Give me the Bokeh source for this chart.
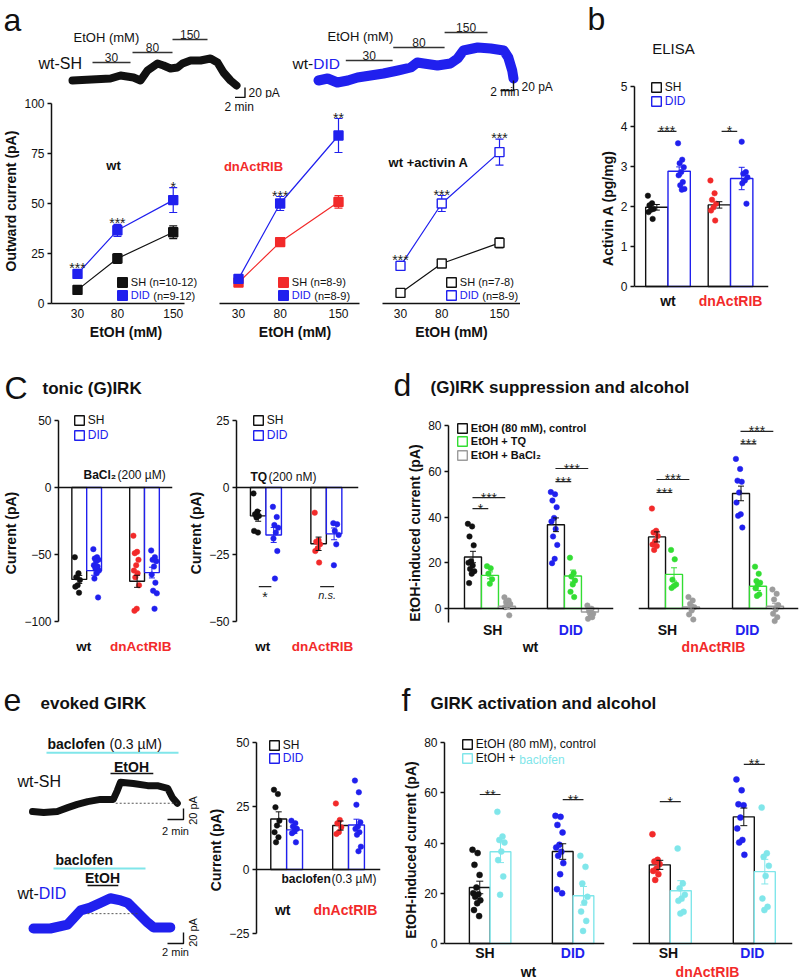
import math
from bokeh.plotting import figure
from bokeh.models import (Range1d, Label, Legend, LegendItem, Whisker, TeeHead,
                          ColumnDataSource, Span, FixedTicker, LinearAxis)
from bokeh.layouts import row, column
from bokeh.embed import file_html
from bokeh.resources import INLINE
from bokeh.core.properties import value

FONT = "Liberation Sans"
BLACK = "#111111"
BLUE = "#2020ee"
RED = "#f22a2a"
GREEN = "#33dd33"
CYAN = "#80e6ea"
GREY = "#9c9c9c"

# ============================ DATA ============================
# ---- panel a: EtOH concentration-response (mean, sem) ----
ETOH_MM = [30, 80, 150]
A_WT_SH = [6.8, 22.5, 35.6]
A_WT_SH_SEM = [1.0, 2.5, 3.2]
A_WT_DID = [14.8, 36.6, 51.7]
A_WT_DID_SEM = [1.0, 3.0, 6.2]
A_DN_SH = [10.5, 30.7, 50.8]
A_DN_SH_SEM = [1.0, 1.6, 3.1]
A_DN_DID = [12.3, 50.0, 84.0]
A_DN_DID_SEM = [1.0, 3.5, 8.5]
A_ACT_SH = [5.3, 20.0, 30.3]
A_ACT_SH_SEM = [1.5, 1.0, 2.5]
A_ACT_DID = [18.8, 50.0, 75.7]
A_ACT_DID_SEM = [2.3, 4.0, 6.5]
A_WT_SIG = ["***", "***", "*"]
A_DN_SIG = ["", "***", "**"]
A_ACT_SIG = ["***", "***", "***"]

# example traces (time in min, current in pA)
TR_SH_T = [0, 7.6, 9.6, 12.2, 13.6, 15, 17, 18.2, 19.6, 21, 22, 23.6, 25.6, 27.6, 29, 30.2, 31.6, 32.8]
TR_SH_I = [0, 4, 10, 6, 0, 20, 34, 30, 24, 26, 34, 40, 40, 44, 36, 16, 0, -10]
TR_SH_ETOH = [(4.0, 11.6), (12.0, 20.0), (20.0, 27.0)]
TR_DID_T = [0, 1.4, 2.9, 4.5, 6, 8, 10, 12.2, 14.2, 15.2, 16.2, 18.3, 20.3, 21.4, 22.3, 24.5, 26.5, 28.5, 29.2, 29.8, 30]
TR_DID_I = [0, 4, -4, 0, 6, 10, 14, 20, 26, 36, 34, 30, 34, 44, 60, 66, 64, 60, 46, 20, 4]
TR_DID_ETOH = [(4.2, 11.4), (11.5, 19.4), (19.4, 26.0)]
ETOH_LABELS = ["30", "80", "150"]
SCALE_MIN = 2
SCALE_PA = 20

# ---- panel b: ELISA (groups wt-SH, wt-DID, dn-SH, dn-DID) ----
B_MEAN = [1.98, 2.88, 2.04, 2.70]
B_SEM = [0.07, 0.11, 0.08, 0.28]
B_POINTS = [[2.27, 2.08, 2.03, 1.94, 1.92, 1.86, 1.69],
            [3.58, 3.17, 3.08, 2.98, 2.86, 2.78, 2.61, 2.53, 2.44, 2.42],
            [2.65, 2.33, 2.17, 2.07, 1.98, 1.90, 1.65],
            [3.62, 2.86, 2.82, 2.73, 2.65, 2.58, 2.07]]
B_SIG = ["***", "*"]

# ---- panel c: tonic (G)IRK ----
C_BA_MEAN = [-68.6, -62.0, -70.0, -63.5]
C_BA_SEM = [3.0, 3.5, 4.5, 4.0]
C_BA_POINTS = [[-52, -64, -67, -69, -73, -74, -78.5],
               [-46, -52, -53, -54, -55, -58, -59, -60, -62, -64, -68, -82],
               [-36, -48, -49, -54, -58, -62, -64, -67, -73, -90.5, -92],
               [-47, -52, -54, -55, -59, -65, -71, -77, -79, -90.5]]
C_TQ_MEAN = [-10.6, -17.7, -21.0, -17.3]
C_TQ_SEM = [2.0, 2.8, 2.5, 2.2]
C_TQ_POINTS = [[-2.2, -9, -10, -10.6, -11.2, -16.2, -16.8],
               [-7.2, -11, -14, -15, -16.8, -19, -23.7, -34],
               [-9.4, -19.7, -20.2, -21.2, -22.7, -23.7, -28],
               [-13.3, -13.7, -16.2, -17.7, -21.2, -29]]
C_TQ_SIG = ["*", "n.s."]

# ---- panel d: (G)IRK suppression (groups wt-SH, wt-DID, dn-SH, dn-DID) ----
D_CTRL_MEAN = [22.5, 36.6, 31.3, 50.3]
D_CTRL_SEM = [2.5, 3.0, 2.2, 3.2]
D_TQ_MEAN = [14.5, 14.2, 14.9, 9.7]
D_TQ_SEM = [1.5, 2.6, 2.9, 1.8]
D_BA_MEAN = [1.0, -1.5, 0.7, 1.0]
D_BA_SEM = [1.0, 1.0, 1.0, 1.3]
D_CTRL_POINTS = [[37, 35.9, 31.5, 27.6, 20.7, 20, 18.8, 17.3, 16.3, 15.2, 11.1],
                 [50.9, 49.9, 47.2, 44.3, 39.6, 38, 34.8, 31.5, 27.8, 21.7, 19.8],
                 [43.7, 34, 33.2, 31.7, 29.5, 28, 27.3, 25.6],
                 [65.4, 61, 55.9, 55.4, 50.7, 46.3, 41.2, 40.5, 35.4]]
D_TQ_POINTS = [[18.5, 17.6, 15.2, 12.8, 10.8],
               [22.2, 15.5, 14, 12.2, 10.5, 7.3, 5],
               [25.6, 21.5, 12.6, 10.5, 9.8, 9],
               [18.3, 15.2, 12, 11.3, 10.5, 8.8, 6.2, 5.5]]
D_BA_POINTS = [[4.9, 3.5, 2.8, 2.0, 1.3, 0.6, -3.0],
               [1.3, -0.1, -1.2, -2.3, -3.5, -4.5, -3.8],
               [5, 3.5, 2, 0.6, -0.9, -2.6, -4.8],
               [8.3, 6.4, 3.9, 1.5, -0.4, -2.3, -3.8, -5.5]]
D_SIG_TQ = ["*", "***", "***", "***"]
D_SIG_TQ_Y = [43.7, 55.5, 50.7, 72.0]
D_SIG_BA = ["***", "***", "***", "***"]
D_SIG_BA_Y = [48.5, 61.2, 56.4, 77.4]

# ---- panel e: evoked GIRK ----
E_MEAN = [19.9, 15.6, 17.3, 17.5]
E_SEM = [2.8, 1.3, 1.8, 2.3]
E_POINTS = [[31.4, 29.7, 24.5, 19.2, 17.3, 14.7, 12.7, 10.7],
            [19.2, 18.2, 16.9, 16, 15, 14.3, 10.7],
            [26, 19.5, 18.2, 16.6, 14.7, 14],
            [35, 30.4, 25.5, 18.6, 16.9, 16, 14.7, 13.7, 9, 7.2]]
E_SH_T = [0, 1.4, 3.1, 4.4, 5.6, 6.9, 8.5, 10.1, 10.6, 11, 12.6, 14.4, 15.6, 16.9, 17.5, 18.1]
E_SH_I = [0, -2, 0, 7, 13, 18, 22, 22, 38, 53, 51, 47, 47, 42, 25, 15]
E_SH_BAC = (1.75, 18.25)
E_SH_ETOH = (9.75, 15.1)
E_SH_BASE = (10.4, 18.1, 15)
E_DID_T = [0, 2.1, 4.25, 5.9, 7.1, 8.4, 9.6, 10.9, 11.75, 13, 14.25, 15, 17.1]
E_DID_I = [0, 0, 7, 33, 38, 47, 55, 51, 47, 29, 11, 2, 2]
E_DID_BAC = (2.5, 14.0)
E_DID_ETOH = (6.75, 10.6)
E_DID_BASE = (6.75, 13.0, 27)

# ---- panel f: GIRK activation (groups wt-SH, wt-DID, dn-SH, dn-DID) ----
F_CTRL_MEAN = [22.3, 36.6, 31.3, 50.4]
F_CTRL_SEM = [2.5, 3.1, 1.8, 3.5]
F_BAC_MEAN = [36.5, 19.0, 21.0, 28.6]
F_BAC_SEM = [4.3, 3.7, 4.0, 4.9]
F_CTRL_POINTS = [[37.3, 36, 31.3, 27.3, 22.3, 20, 19.6, 18.6, 17.2, 16, 13.3, 10.9],
                 [50.8, 50.4, 47.2, 44.2, 39.3, 38.2, 36.5, 34.9, 32, 27.6, 21.6, 20],
                 [43.5, 33.3, 32.6, 31.6, 29.8, 28.9, 27.6, 25.3],
                 [65.3, 61, 55.4, 55, 50.1, 45.8, 41.2, 40.2, 35.3]]
F_BAC_POINTS = [[52.4, 42.6, 41.2, 40.2, 36.6, 33.2, 26.7, 19.4],
                [34.9, 30.5, 23.9, 18.6, 16.3, 12.7, 9, 5],
                [37.8, 23.9, 22, 19.4, 17.9, 17, 12.6, 11.9],
                [54.1, 35.9, 34.5, 30.9, 26.9, 17.9, 14.6, 13.3]]
F_SIG = ["**", "**", "*", "**"]
F_SIG_Y = [59.3, 57.3, 56.5, 71.3]

# ============================ HELPERS ============================
GEOM = {}


def mkfig(gx, gy, w, h, frame, xmap, ymap):
    """frame = (X0, X1, Y0, Y1) in page pixels; xmap/ymap = two (pixel, data) anchors."""
    fx0, fx1, fy0, fy1 = frame
    (PX0, dx0), (PX1, dx1) = xmap
    (PY0, dy0), (PY1, dy1) = ymap
    kx = (dx1 - dx0) / (PX1 - PX0)
    ky = (dy1 - dy0) / (PY1 - PY0)
    xr = (dx0 + (fx0 - PX0) * kx, dx0 + (fx1 - PX0) * kx)
    yr = (dy0 + (fy1 - PY0) * ky, dy0 + (fy0 - PY0) * ky)
    p = figure(width=w, height=h, x_range=Range1d(*xr), y_range=Range1d(*yr),
               output_backend="svg", toolbar_location=None,
               x_axis_location=None, y_axis_location=None,
               min_border_left=fx0 - gx, min_border_top=fy0 - gy,
               min_border_right=gx + w - fx1, min_border_bottom=gy + h - fy1)
    p.outline_line_color = None
    p.grid.visible = False
    p.background_fill_color = "white"
    p.border_fill_color = "white"
    GEOM[p.id] = (fx0, fy0, fx1 - fx0, fy1 - fy0)
    return p


def blank(gx, gy, w, h):
    return mkfig(gx, gy, w, h, (gx, gx + w, gy, gy + h), ((gx, 0), (gx + w, 1)), ((gy + h, 0), (gy, 1)))


def fstyle(bold, italic):
    if bold and italic:
        return "bold italic"
    if bold:
        return "bold"
    if italic:
        return "italic"
    return "normal"


def style_axis(ax, tick_size=12, label_size=14):
    ax.axis_line_width = 1.5
    ax.axis_line_color = BLACK
    ax.major_tick_line_width = 1.5
    ax.major_tick_line_color = BLACK
    ax.major_tick_out = 4
    ax.major_tick_in = 0
    ax.minor_tick_out = 0
    ax.minor_tick_in = 0
    ax.major_label_standoff = 3
    ax.major_label_text_font = FONT
    ax.major_label_text_font_size = f"{tick_size}px"
    ax.major_label_text_color = BLACK
    ax.axis_label_text_font = FONT
    ax.axis_label_text_font_size = f"{label_size}px"
    ax.axis_label_text_font_style = "bold"
    ax.axis_label_text_color = BLACK


def add_yaxis(p, ticks, label, bounds, standoff=2):
    ax = LinearAxis(ticker=FixedTicker(ticks=ticks), axis_label=label, bounds=bounds)
    style_axis(ax, 12, 14)
    ax.axis_label_standoff = standoff
    p.add_layout(ax, "left")


def zero_line(p):
    p.add_layout(Span(location=0, dimension="width", line_color=BLACK, line_width=1.5))


def glabel(p, X, Y, text, size=12, color=BLACK, bold=False, italic=False,
           align="left", baseline="middle", angle=0.0):
    fx, fy, fw, fh = GEOM[p.id]
    p.add_layout(Label(x=X - fx, y=fy + fh - Y, x_units="screen", y_units="screen",
                       text=text, text_font=FONT, text_font_size=f"{size}px",
                       text_color=color, text_font_style=fstyle(bold, italic),
                       text_align=align, text_baseline=baseline, angle=angle))


def dlabel(p, x, Y, text, size=14, color=BLACK, bold=True, align="center"):
    fx, fy, fw, fh = GEOM[p.id]
    p.add_layout(Label(x=x, y=fy + fh - Y, x_units="data", y_units="screen",
                       text=text, text_font=FONT, text_font_size=f"{size}px",
                       text_color=color, text_font_style=fstyle(bold, False),
                       text_align=align, text_baseline="middle"))


def glegend(p, X, Y, renderer, text, color=BLACK, size=11, bold=False, index=0):
    fx, fy, fw, fh = GEOM[p.id]
    gw = 12
    leg = Legend(items=[LegendItem(label=value(text), renderers=[renderer], index=index)],
                 location=(X - 1.2 - fx, fy + fh - (Y + gw / 2)),
                 glyph_width=gw, glyph_height=gw, label_height=gw, label_width=5,
                 label_standoff=3, padding=0, margin=0, spacing=0,
                 border_line_color=None, background_fill_alpha=0,
                 label_text_font=FONT, label_text_font_size=f"{size}px",
                 label_text_color=color, label_text_font_style=fstyle(bold, False))
    p.add_layout(leg)


def ebar(p, x, lo, hi, color, head=7, lw=1.0, level="annotation"):
    src = ColumnDataSource(dict(b=[x], u=[hi], l=[lo]))
    p.add_layout(Whisker(source=src, base="b", upper="u", lower="l",
                         line_color=color, line_width=lw, level=level,
                         upper_head=TeeHead(size=head, line_color=color, line_width=lw),
                         lower_head=TeeHead(size=head, line_color=color, line_width=lw)))


def barset(p, pos, means, sems, outline, head=7):
    src = ColumnDataSource(dict(x=pos, top=means, c=outline))
    r = p.vbar(x="x", top="top", bottom=0, width=1.0, source=src,
               fill_color="white", line_color="c", line_width=1.4)
    for x, m, s, c in zip(pos, means, sems, outline):
        ebar(p, x, m - s, m + s, c, head)
    return r


def dots(p, xc, vals, color, spread=0.35, size=6):
    n = len(vals)
    xs = [xc + spread * (((i * 0.6180339) % 1.0) - 0.5) for i in range(n)]
    p.scatter(xs, vals, size=size, fill_color=color, line_color=color, line_width=0.5)


def sig(p, x0, x1, y, text, below=False, size=14, italic=False):
    p.segment(x0=[x0], y0=[y], x1=[x1], y1=[y], line_color="#222222", line_width=1.2)
    p.add_layout(Label(x=(x0 + x1) / 2, y=y, text=text, text_align="center",
                       text_baseline="top" if below else "alphabetic",
                       y_offset=-2 if below else 0,
                       text_font=FONT, text_font_size=f"{size}px", text_color="#222222",
                       text_font_style=fstyle(False, italic)))


def scalebar(p, t_end, i_base):
    p.line([t_end - SCALE_MIN, t_end, t_end], [i_base, i_base, i_base + SCALE_PA],
           line_color=BLACK, line_width=1.4)


def appl_bars(p, periods, levels, labels):
    for (t0, t1), lvl, txt in zip(periods, levels, labels):
        p.segment(x0=[t0], y0=[lvl], x1=[t1], y1=[lvl], line_color="#333333", line_width=1.3)
        p.add_layout(Label(x=(t0 + t1) / 2, y=lvl, text=txt, text_align="center",
                           text_baseline="bottom", y_offset=1, text_font=FONT,
                           text_font_size="12px", text_color="#222222"))


# ============================ ROW 1 ============================
# ---- panel a: example traces ----
tA1 = mkfig(0, 0, 290, 98, (0, 290, 0, 98), ((72, 0), (82, 2)), ((80, 0), (90, -20)))
tA1.line(TR_SH_T, TR_SH_I, line_color=BLACK, line_width=8, line_join="round", line_cap="round")
appl_bars(tA1, TR_SH_ETOH, [36, 56, 82], ETOH_LABELS)
scalebar(tA1, 34.5, -34)
glabel(tA1, 3, 19, "a", 32)
glabel(tA1, 73, 37, "EtOH (mM)", 13)
glabel(tA1, 38, 63, "wt-SH", 16)
glabel(tA1, 248, 92, "20 pA", 12)

tA2 = mkfig(290, 0, 230, 98, (290, 520, 0, 98), ((318, 0), (331, 2)), ((80, 0), (90, -20)))
tA2.line(TR_DID_T, TR_DID_I, line_color=BLUE, line_width=10, line_join="round", line_cap="round")
appl_bars(tA2, TR_DID_ETOH, [40, 66, 96], ETOH_LABELS)
scalebar(tA2, 30, -20)
glabel(tA2, 327, 36, "EtOH (mM)", 13)
glabel(tA2, 292, 63, "wt-", 15.5)
glabel(tA2, 312.7, 63, "DID", 15.5, BLUE)
glabel(tA2, 519, 91, "2 min", 12, align="right")

# ---- panel a: concentration-response plots ----
YMAP_A = ((303, 0), (103, 100))
lp1 = mkfig(0, 98, 200, 247, (47, 200, 98, 303), ((73.7, 30), (172, 150)), YMAP_A)
lp2 = mkfig(200, 98, 170, 247, (219, 370, 98, 303), ((238, 30), (338, 150)), YMAP_A)
lp3 = mkfig(370, 98, 150, 247, (382, 520, 98, 303), ((400, 30), (499, 150)), YMAP_A)
for p, bnd in ((lp1, (-2.6, 164.6)), (lp2, (7.2, 175.2)), (lp3, (8.2, 175.5))):
    ax = LinearAxis(ticker=FixedTicker(ticks=ETOH_MM), axis_label="EtOH (mM)", bounds=bnd)
    style_axis(ax, 12, 14)
    ax.major_tick_out = 0
    ax.major_label_standoff = 5
    ax.axis_label_standoff = 3
    p.add_layout(ax, "below")
add_yaxis(lp1, [0, 25, 50, 75, 100], "Outward current (pA)", (0, 100))


def lineplot(p, x, y, e, color, filled, stars):
    p.line(x, y, line_color=color, line_width=1.2)
    for xi, yi, ei in zip(x, y, e):
        ebar(p, xi, yi - ei, yi + ei, color, head=8, lw=1.2, level="underlay")
    r = p.rect(x, y, width=9, height=9, width_units="screen", height_units="screen",
               fill_color=color if filled else "white", line_color=color, line_width=1.4)
    if stars:
        for xi, yi, ei, s in zip(x, y, e, stars):
            if s:
                p.add_layout(Label(x=xi, y=yi + max(ei, 2.3), text=s, text_align="center",
                                   text_baseline="alphabetic", y_offset=1, text_font=FONT,
                                   text_font_size="14px", text_color="#222222"))
    return r


r1s = lineplot(lp1, ETOH_MM, A_WT_SH, A_WT_SH_SEM, BLACK, True, None)
r1d = lineplot(lp1, ETOH_MM, A_WT_DID, A_WT_DID_SEM, BLUE, True, A_WT_SIG)
r2s = lineplot(lp2, ETOH_MM, A_DN_SH, A_DN_SH_SEM, RED, True, None)
r2d = lineplot(lp2, ETOH_MM, A_DN_DID, A_DN_DID_SEM, BLUE, True, A_DN_SIG)
r3s = lineplot(lp3, ETOH_MM, A_ACT_SH, A_ACT_SH_SEM, BLACK, False, None)
r3d = lineplot(lp3, ETOH_MM, A_ACT_DID, A_ACT_DID_SEM, BLUE, False, A_ACT_SIG)

glegend(lp1, 113, 282, r1s, "SH (n=10-12)")
glegend(lp1, 113, 295, r1d, "DID", BLUE)
glabel(lp1, 113 + 35.8, 295, "(n=9-12)", 11)
glegend(lp2, 278, 282, r2s, "SH (n=8-9)")
glegend(lp2, 278, 295, r2d, "DID", BLUE)
glabel(lp2, 278 + 35.8, 295, "(n=8-9)", 11)
glegend(lp3, 446, 282, r3s, "SH (n=7-8)")
glegend(lp3, 446, 295, r3d, "DID", BLUE)
glabel(lp3, 446 + 35.8, 295, "(n=8-9)", 11)

glabel(lp1, 109, 165, "wt", 13, bold=True, align="center")
glabel(lp2, 253, 166, "dnActRIB", 13, RED, bold=True, align="center")
glabel(lp3, 428, 162, "wt +activin A", 13, bold=True, align="center")
glabel(lp2, 224, 106, "2 min", 12)

# ---- panel b ----
pbTop = blank(520, 0, 280, 70)
glabel(pbTop, 587, 18, "b", 32)
glabel(pbTop, 673, 48, "ELISA", 15, align="center")
pbGap = blank(520, 70, 40, 275)
glabel(pbGap, 521, 86, "20 pA", 12)
pb = mkfig(560, 70, 240, 275, (634, 768, 70, 345), ((634, 0), (768, 6)), ((286, 0), (86, 5)))
add_yaxis(pb, [0, 1, 2, 3, 4, 5], "Activin A (pg/mg)", (0, 5))
zero_line(pb)
B_POS = [1.0, 2.0, 3.8, 4.8]
rb = barset(pb, B_POS, B_MEAN, B_SEM, [BLACK, BLUE, BLACK, BLUE], head=6)
for x, pts, c, sh in zip(B_POS, B_POINTS, [BLACK, BLUE, RED, BLUE], [-0.25, 0.1, -0.25, 0.15]):
    dots(pb, x + sh, pts, c, spread=0.3, size=5.5)
sig(pb, 1.03, 1.88, 3.88, B_SIG[0])
sig(pb, 3.9, 4.6, 3.88, B_SIG[1])
glegend(pb, 651, 88, rb, "SH", BLACK, 12, index=0)
glegend(pb, 651, 102, rb, "DID", BLUE, 12, index=1)
dlabel(pb, 1.5, 300, "wt")
dlabel(pb, 4.3, 300, "dnActRIB", color=RED)

# ============================ ROW 2 ============================
cT = blank(0, 345, 360, 60)
glabel(cT, 4, 387, "C", 32)
glabel(cT, 42, 388, "tonic (G)IRK", 17, bold=True)

C_POS = [1.4, 2.4, 5.3, 6.3]
C_CAT = [1.7, 5.55]
PT_COL = [BLACK, BLUE, RED, BLUE]
PT_SHIFT = [-0.1, 0.15, -0.05, 0.15]

cl = mkfig(0, 405, 185, 255, (49, 172, 405, 660), ((49, 0), (65, 1)), ((621, -100), (420, 50)))
add_yaxis(cl, [-100, -50, 0, 50], "Current (pA)", (-100, 50))
zero_line(cl)
rcl = barset(cl, C_POS, C_BA_MEAN, C_BA_SEM, [BLACK, BLUE, BLACK, BLUE], head=6)
for x, pts, c, sh in zip(C_POS, C_BA_POINTS, PT_COL, PT_SHIFT):
    dots(cl, x + sh, pts, c, spread=0.4, size=5.5)
glegend(cl, 65, 421, rcl, "SH", BLACK, 12, index=0)
glegend(cl, 65, 436, rcl, "DID", BLUE, 12, index=1)
glabel(cl, 74, 474, "BaCl\u2082", 12, bold=True)
glabel(cl, 108, 474, "(200 \u00b5M)", 12)
dlabel(cl, C_CAT[0], 646, "wt", size=13.5)
dlabel(cl, C_CAT[1], 646, "dnActRIB", size=13.5, color=RED)

cr = mkfig(185, 405, 175, 255, (232, 358, 405, 660), ((232, 0), (248, 1)), ((621, -50), (420, 25)))
add_yaxis(cr, [-50, -25, 0, 25], "Current (pA)", (-50, 25))
zero_line(cr)
rcr = barset(cr, C_POS, C_TQ_MEAN, C_TQ_SEM, [BLACK, BLUE, BLACK, BLUE], head=6)
for x, pts, c, sh in zip(C_POS, C_TQ_POINTS, PT_COL, PT_SHIFT):
    dots(cr, x + sh, pts, c, spread=0.4, size=5.5)
glegend(cr, 249, 421, rcr, "SH", BLACK, 12, index=0)
glegend(cr, 249, 436, rcr, "DID", BLUE, 12, index=1)
glabel(cr, 246, 476, "TQ", 12, bold=True)
glabel(cr, 264, 476, "(200 nM)", 12)
sig(cr, 1.44, 2.25, -37, C_TQ_SIG[0], below=True)
sig(cr, 5.4, 6.3, -37, C_TQ_SIG[1], below=True, size=11, italic=True)
dlabel(cr, C_CAT[0], 646, "wt", size=13.5)
dlabel(cr, C_CAT[1], 646, "dnActRIB", size=13.5, color=RED)

dT = blank(360, 345, 440, 60)
glabel(dT, 393, 384, "d", 32)
glabel(dT, 430, 387, "(G)IRK suppression and alcohol", 17, bold=True)

YMAP_D = ((608, 0), (425, 80))
dl = mkfig(360, 405, 265, 255, (448, 613, 405, 660), ((448, 0), (465, 1)), YMAP_D)
dr = mkfig(625, 405, 175, 255, (638, 798, 405, 660), ((638, 0), (655, 1)), YMAP_D)
add_yaxis(dl, [0, 20, 40, 60, 80], "EtOH-induced current (pA)", (-6.1, 80))


def dpanel(p, pos, groups, ctrl_cols):
    zero_line(p)
    cx = [pos[0][0], pos[1][0]]
    tx = [pos[0][1], pos[1][1]]
    bx = [pos[0][2], pos[1][2]]
    rc = barset(p, cx, [D_CTRL_MEAN[g] for g in groups], [D_CTRL_SEM[g] for g in groups], [BLACK, BLACK], 6)
    rt = barset(p, tx, [D_TQ_MEAN[g] for g in groups], [D_TQ_SEM[g] for g in groups], [GREEN, GREEN], 6)
    rba = barset(p, bx, [D_BA_MEAN[g] for g in groups], [D_BA_SEM[g] for g in groups], [GREY, GREY], 6)
    for k, g in enumerate(groups):
        dots(p, cx[k] - 0.1, D_CTRL_POINTS[g], ctrl_cols[k], spread=0.4, size=5.5)
        dots(p, tx[k], D_TQ_POINTS[g], GREEN, spread=0.35, size=5.5)
        dots(p, bx[k] + 0.05, D_BA_POINTS[g], GREY, spread=0.4, size=5.5)
        sig(p, cx[k] - 0.03, tx[k] - 0.1, D_SIG_TQ_Y[g], D_SIG_TQ[g])
        sig(p, cx[k] - 0.03, bx[k] - 0.1, D_SIG_BA_Y[g], D_SIG_BA[g])
    return rc, rt, rba


rdc, rdt, rdb = dpanel(dl, [[1.44, 2.44, 3.44], [6.32, 7.32, 8.32]], [0, 1], [BLACK, BLUE])
dpanel(dr, [[1.09, 2.09, 3.09], [6.03, 7.03, 8.03]], [2, 3], [RED, BLUE])
glegend(dl, 457, 428, rdc, "EtOH (80 mM), control", bold=True)
glegend(dl, 457, 441, rdt, "EtOH + TQ", bold=True)
glegend(dl, 457, 455, rdb, "EtOH + BaCl\u2082", bold=True)
dlabel(dl, 2.6, 629, "SH")
dlabel(dl, 7.2, 629, "DID", color=BLUE)
dlabel(dr, 1.7, 629, "SH")
dlabel(dr, 6.4, 629, "DID", color=BLUE)
glabel(dl, 530, 646, "wt", 14, bold=True, align="center")
glabel(dr, 713, 646, "dnActRIB", 14, RED, bold=True, align="center")

# ============================ ROW 3 ============================
eT = blank(0, 660, 400, 60)
glabel(eT, 3, 699, "e", 32)
glabel(eT, 40, 703, "evoked GIRK", 17, bold=True)

eTr1 = mkfig(0, 720, 205, 130, (0, 205, 720, 850), ((32, 0), (48, 2)), ((811, 0), (822, -20)))
eTr1.line(E_SH_T, E_SH_I, line_color=BLACK, line_width=7, line_join="round", line_cap="round")
eTr1.segment(x0=[E_SH_BASE[0]], y0=[E_SH_BASE[2]], x1=[E_SH_BASE[1]], y1=[E_SH_BASE[2]],
             line_color="#444444", line_width=0.9, line_dash="2 2")
eTr1.segment(x0=[E_SH_BAC[0]], y0=[107], x1=[E_SH_BAC[1]], y1=[107], line_color=CYAN, line_width=2)
eTr1.segment(x0=[E_SH_ETOH[0]], y0=[69], x1=[E_SH_ETOH[1]], y1=[69], line_color=BLACK, line_width=1.5)
scalebar(eTr1, 18.875, -14.6)
glabel(eTr1, 47, 743, "baclofen", 14, bold=True)
glabel(eTr1, 109, 743, "(0.3 \u00b5M)", 14)
glabel(eTr1, 131, 766, "EtOH", 14, bold=True, align="center")
glabel(eTr1, 17, 781, "wt-SH", 16)
glabel(eTr1, 192, 810, "20 pA", 11, align="center", angle=math.pi / 2)
glabel(eTr1, 175, 830, "2 min", 11, align="center")

eTr2 = mkfig(0, 850, 205, 129, (0, 205, 850, 979), ((33, 0), (49, 2)), ((928, 0), (939, -20)))
eTr2.line(E_DID_T, E_DID_I, line_color=BLUE, line_width=10, line_join="round", line_cap="round")
eTr2.segment(x0=[E_DID_BASE[0]], y0=[E_DID_BASE[2]], x1=[E_DID_BASE[1]], y1=[E_DID_BASE[2]],
             line_color="#444444", line_width=0.9, line_dash="2 2")
eTr2.segment(x0=[E_DID_BAC[0]], y0=[109], x1=[E_DID_BAC[1]], y1=[109], line_color=CYAN, line_width=2)
eTr2.segment(x0=[E_DID_ETOH[0]], y0=[78], x1=[E_DID_ETOH[1]], y1=[78], line_color=BLACK, line_width=1.5)
scalebar(eTr2, 18.75, -27.3)
glabel(eTr2, 55, 859, "baclofen", 14, bold=True)
glabel(eTr2, 102, 877, "EtOH", 14, bold=True, align="center")
glabel(eTr2, 17, 893, "wt-", 16)
glabel(eTr2, 38.3, 893, "DID", 16, BLUE)
glabel(eTr2, 192, 932, "20 pA", 11, align="center", angle=math.pi / 2)
glabel(eTr2, 175, 951, "2 min", 11, align="center")

eBar = mkfig(205, 720, 195, 259, (255, 380, 720, 979), ((255, 0), (271, 1)), ((869, 0), (742, 50)))
add_yaxis(eBar, [-25, 0, 25, 50], "Current (pA)", (-25, 50))
zero_line(eBar)
reb = barset(eBar, C_POS, E_MEAN, E_SEM, [BLACK, BLUE, BLACK, BLUE], head=6)
for x, pts, c, sh in zip(C_POS, E_POINTS, PT_COL, [-0.1, 0.0, -0.1, 0.1]):
    dots(eBar, x + sh, pts, c, spread=0.4, size=5.5)
glegend(eBar, 268, 746, reb, "SH", BLACK, 12, index=0)
glegend(eBar, 268, 759, reb, "DID", BLUE, 12, index=1)
glabel(eBar, 280, 878, "baclofen", 12, bold=True)
glabel(eBar, 330, 878, "(0.3 \u00b5M)", 12)
dlabel(eBar, 1.65, 909, "wt")
dlabel(eBar, 5.6, 909, "dnActRIB", color=RED)

fT = blank(400, 660, 400, 60)
glabel(fT, 401, 699, "f", 32)
glabel(fT, 430, 703, "GIRK activation and alcohol", 17, bold=True)

YMAP_F = ((943, 0), (742, 80))
fl = mkfig(400, 720, 218, 259, (442, 604, 720, 979), ((442, 0), (463, 1)), YMAP_F)
fr = mkfig(618, 720, 182, 259, (632, 792, 720, 979), ((632, 0), (653, 1)), YMAP_F)
add_yaxis(fl, [0, 20, 40, 60, 80], "EtOH-induced current (pA)", (0, 80))


def fpanel(p, ctrl_x, bac_x, groups, ctrl_cols):
    zero_line(p)
    rc = barset(p, ctrl_x, [F_CTRL_MEAN[g] for g in groups], [F_CTRL_SEM[g] for g in groups], [BLACK, BLACK], 7)
    rbac = barset(p, bac_x, [F_BAC_MEAN[g] for g in groups], [F_BAC_SEM[g] for g in groups], [CYAN, CYAN], 7)
    for k, g in enumerate(groups):
        dots(p, ctrl_x[k] - 0.15, F_CTRL_POINTS[g], ctrl_cols[k], spread=0.4, size=6)
        dots(p, bac_x[k] + 0.05, F_BAC_POINTS[g], CYAN, spread=0.4, size=6)
        sig(p, ctrl_x[k], bac_x[k], F_SIG_Y[g], F_SIG[g])
    return rc, rbac


rfc, rfb = fpanel(fl, [1.7, 5.7], [2.7, 6.7], [0, 1], [BLACK, BLUE])
fpanel(fr, [1.3, 5.3], [2.3, 6.3], [2, 3], [RED, BLUE])
glegend(fl, 460, 745, rfc, "EtOH (80 mM), control", size=12)
glegend(fl, 460, 759, rfb, "EtOH +", size=12)
glabel(fl, 460 + 56.8, 759, "baclofen", 12, CYAN)
dlabel(fl, 1.95, 952, "SH")
dlabel(fl, 6.19, 952, "DID", color=BLUE)
dlabel(fr, 1.71, 952, "SH")
dlabel(fr, 5.71, 952, "DID", color=BLUE)
glabel(fl, 526, 971, "wt", 14, bold=True, align="center")
glabel(fr, 707, 971, "dnActRIB", 14, RED, bold=True, align="center")

# ============================ LAYOUT ============================
row1 = row(column(row(tA1, tA2), row(lp1, lp2, lp3)), column(pbTop, row(pbGap, pb)))
row2 = row(column(cT, row(cl, cr)), column(dT, row(dl, dr)))
row3 = row(column(eT, row(column(eTr1, eTr2), eBar)), column(fT, row(fl, fr)))
layout = column(row1, row2, row3)

open("out.html", "w").write(file_html(layout, INLINE))
